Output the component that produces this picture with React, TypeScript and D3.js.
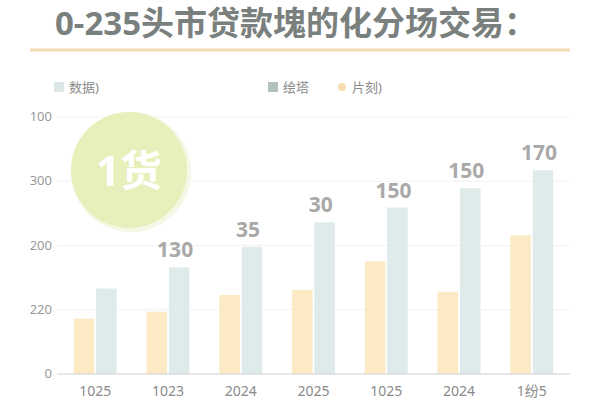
import * as d3 from 'd3';

const categories = ['1025', '1023', '2024', '2025', '1025', '2024', '1纷5'];
const dataValues = [133, 166, 198, 236, 259, 289, 317]; // 数据)
const pianValues = [86, 97, 123, 131, 175, 128, 216]; // 片刻)
const valueLabels = ['', '130', '35', '30', '150', '150', '170'];
const yTicks = [0, 100, 200, 300, 400];
const yTickLabels = ['0', '220', '200', '300', '100'];
const legendItems = [
  { name: '数据)', color: '#dce8e8', shape: 'rect' },
  { name: '绘塔', color: '#b3c2bb', shape: 'rect' },
  { name: '片刻)', color: '#f6dcae', shape: 'circle' },
];

const W = 600;
const H = 400;
const margin = { top: 117, right: 30, bottom: 26, left: 57 };
const font = '"Noto Sans", "Noto Sans CJK SC", sans-serif';

const App = () => {
  const x0 = d3.scaleBand<number>()
    .domain(categories.map((_, i) => i))
    .range([margin.left, W - margin.right])
    .paddingInner(0.41)
    .paddingOuter(0.23);
  const x1 = d3.scaleBand<string>()
    .domain(['pian', 'data'])
    .range([0, x0.bandwidth()])
    .paddingInner(0.08);
  const y = d3.scaleLinear()
    .domain([0, 400])
    .range([H - margin.bottom, margin.top]);

  const legendX = [54, 268, 338];

  return (
    <svg width={W} height={H} style={{ position: 'absolute', left: 0, top: 0, background: '#fff' }} fontFamily={font}>
      {/* 标题 */}
      <text x={296} y={35} textAnchor="middle" fontSize={33} fontWeight="bold" fill="#7a807d">
        0-235头市贷款塊的化分场交易：
      </text>
      <line x1={30} x2={570} y1={50} y2={50} stroke="#f3dcb4" strokeWidth={3} />

      {/* 图例 */}
      {legendItems.map((d, i) => (
        <g key={i} transform={`translate(${legendX[i]},87)`}>
          {d.shape === 'rect'
            ? <rect x={0} y={-5} width={10} height={10} fill={d.color} />
            : <circle cx={4} cy={0} r={4} fill={d.color} />}
          <text x={d.shape === 'rect' ? 15 : 14} y={5} fontSize={13} fill="#8a8a8a">{d.name}</text>
        </g>
      ))}

      {/* 网格 + y 轴 */}
      {yTicks.map((t, i) => (
        <g key={t}>
          {t > 0 && (
            <line x1={margin.left} x2={W - margin.right} y1={y(t)} y2={y(t)} stroke="#f1f2f1" strokeWidth={1} />
          )}
          <text x={52} y={y(t) + 4} textAnchor="end" fontSize={13} fill="#9a9a9a">{yTickLabels[i]}</text>
        </g>
      ))}

      {/* 圆形标记 */}
      <circle cx={131} cy={172} r={60} fill="#f4f8e4" />
      <circle cx={129} cy={170} r={58} fill="#e7efbb" />
      <text x={129} y={186} textAnchor="middle" fontSize={42} fontWeight="bold" fill="#fff">1货</text>

      {/* 柱子 */}
      {categories.map((c, i) => {
        const gx = x0(i) as number;
        const bx = gx + (x1('data') as number);
        return (
          <g key={i}>
            <rect x={gx + (x1('pian') as number)} y={y(pianValues[i])} width={x1.bandwidth()}
              height={y(0) - y(pianValues[i])} fill="#fbeac4" />
            <rect x={bx} y={y(dataValues[i])} width={x1.bandwidth()}
              height={y(0) - y(dataValues[i])} fill="#dfeaea" />
            {valueLabels[i] && (
              <text x={bx + x1.bandwidth() / 2 - 4} y={y(dataValues[i]) - 10} textAnchor="middle"
                fontSize={21} fontWeight="bold" fill="#a9a9a9">{valueLabels[i]}</text>
            )}
            <text x={gx + x0.bandwidth() / 2} y={396} textAnchor="middle" fontSize={14} fill="#8a8a8a">{c}</text>
          </g>
        );
      })}

      {/* x 轴线 */}
      <line x1={margin.left} x2={W - margin.right} y1={y(0)} y2={y(0)} stroke="#cfcfcf" strokeWidth={1} />
    </svg>
  );
};

export default App;
